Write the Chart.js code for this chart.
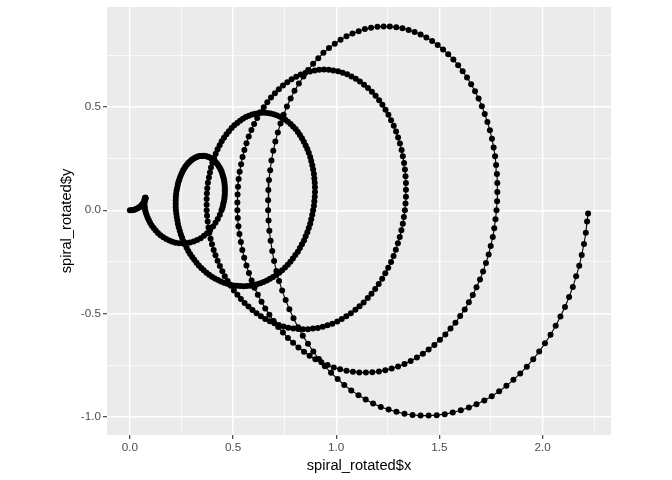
<!DOCTYPE html>
<html>
<head>
<meta charset="utf-8">
<script src="https://cdn.jsdelivr.net/npm/chart.js@4/dist/chart.umd.min.js"></script>
<style>
  html, body { margin: 0; padding: 0; background: #ffffff; }
  #contenedor { width: 672px; height: 480px; }
</style>
</head>
<body>
<div id="contenedor"><canvas id="grafica" width="672" height="480"></canvas></div>
<script>
// puntos de la espiral (una vuelta por bloque)
const spiralX = [
  // vuelta 1
  0, 0.007, 0.015, 0.022, 0.029, 0.035, 0.042, 0.047, 0.053, 0.057,
  0.062, 0.065, 0.068, 0.071, 0.073, 0.074, 0.075, 0.075, 0.075, 0.075,
  0.074, 0.073, 0.073, 0.072, 0.071, 0.070, 0.070, 0.070, 0.071, 0.072,
  0.074, 0.077, 0.081, 0.086, 0.092, 0.098, 0.106, 0.115, 0.125, 0.136,
  0.148, 0.162, 0.176, 0.191, 0.206, 0.222, 0.239, 0.256, 0.274, 0.291,
  0.309, 0.326, 0.343, 0.359, 0.374, 0.389, 0.403, 0.415, 0.426, 0.436,
  // vuelta 2
  0.444, 0.448, 0.451, 0.453, 0.456, 0.458, 0.459, 0.460, 0.460, 0.460,
  0.460, 0.459, 0.458, 0.456, 0.454, 0.451, 0.448, 0.445, 0.441, 0.437,
  0.432, 0.427, 0.422, 0.416, 0.411, 0.405, 0.398, 0.392, 0.385, 0.378,
  0.371, 0.363, 0.356, 0.349, 0.341, 0.334, 0.326, 0.319, 0.311, 0.304,
  0.297, 0.290, 0.283, 0.277, 0.270, 0.264, 0.258, 0.253, 0.248, 0.243,
  0.239, 0.235, 0.232, 0.229, 0.226, 0.224, 0.223, 0.222, 0.222, 0.222,
  0.223, 0.225, 0.227, 0.230, 0.233, 0.237, 0.242, 0.247, 0.253, 0.260,
  0.267, 0.275, 0.283, 0.292, 0.302, 0.312, 0.323, 0.334, 0.346, 0.358,
  0.371, 0.384, 0.398, 0.412, 0.427, 0.441, 0.456, 0.472, 0.487, 0.503,
  0.519, 0.535, 0.551, 0.567, 0.584, 0.600, 0.616, 0.632, 0.648, 0.664,
  0.679, 0.694, 0.709, 0.724, 0.738, 0.752, 0.765, 0.778, 0.790, 0.802,
  0.814, 0.824, 0.834, 0.844, 0.852, 0.860, 0.867, 0.874, 0.879, 0.884,
  // vuelta 3
  0.888, 0.892, 0.894, 0.896, 0.897, 0.897, 0.896, 0.894, 0.892, 0.888,
  0.884, 0.879, 0.874, 0.867, 0.860, 0.852, 0.843, 0.834, 0.824, 0.814,
  0.803, 0.791, 0.779, 0.766, 0.753, 0.739, 0.725, 0.711, 0.697, 0.682,
  0.667, 0.652, 0.637, 0.622, 0.607, 0.592, 0.577, 0.562, 0.548, 0.534,
  0.520, 0.506, 0.493, 0.480, 0.468, 0.456, 0.445, 0.435, 0.425, 0.416,
  0.408, 0.400, 0.393, 0.388, 0.383, 0.378, 0.375, 0.373, 0.372, 0.372,
  0.372, 0.374, 0.377, 0.381, 0.385, 0.391, 0.398, 0.406, 0.415, 0.425,
  0.436, 0.448, 0.460, 0.474, 0.489, 0.504, 0.521, 0.538, 0.556, 0.575,
  0.594, 0.614, 0.635, 0.656, 0.678, 0.700, 0.722, 0.745, 0.768, 0.792,
  0.816, 0.839, 0.863, 0.887, 0.911, 0.935, 0.958, 0.981, 1.005, 1.027,
  1.049, 1.071, 1.093, 1.113, 1.133, 1.153, 1.171, 1.189, 1.206, 1.223,
  1.238, 1.252, 1.266, 1.278, 1.289, 1.299, 1.308, 1.316, 1.323, 1.328,
  // vuelta 4
  1.333, 1.336, 1.338, 1.338, 1.338, 1.336, 1.333, 1.329, 1.323, 1.317,
  1.309, 1.300, 1.290, 1.279, 1.266, 1.253, 1.239, 1.224, 1.208, 1.191,
  1.173, 1.154, 1.135, 1.115, 1.095, 1.074, 1.053, 1.031, 1.009, 0.986,
  0.964, 0.941, 0.918, 0.896, 0.873, 0.850, 0.828, 0.806, 0.784, 0.763,
  0.742, 0.722, 0.703, 0.684, 0.666, 0.649, 0.632, 0.617, 0.602, 0.589,
  0.576, 0.565, 0.555, 0.546, 0.539, 0.532, 0.527, 0.524, 0.522, 0.521,
  0.521, 0.523, 0.526, 0.531, 0.538, 0.545, 0.554, 0.565, 0.577, 0.590,
  0.604, 0.620, 0.638, 0.656, 0.676, 0.697, 0.719, 0.742, 0.766, 0.791,
  0.817, 0.844, 0.871, 0.899, 0.928, 0.958, 0.988, 1.019, 1.050, 1.081,
  1.112, 1.144, 1.175, 1.207, 1.238, 1.269, 1.300, 1.331, 1.361, 1.391,
  1.420, 1.448, 1.476, 1.503, 1.529, 1.554, 1.578, 1.601, 1.623, 1.643,
  1.662, 1.680, 1.697, 1.712, 1.726, 1.739, 1.749, 1.759, 1.766, 1.772,
  // vuelta 5
  1.777, 1.780, 1.781, 1.781, 1.779, 1.775, 1.770, 1.763, 1.755, 1.745,
  1.733, 1.720, 1.706, 1.690, 1.673, 1.654, 1.634, 1.613, 1.591, 1.568,
  1.543, 1.518, 1.492, 1.465, 1.437, 1.409, 1.380, 1.351, 1.321, 1.291,
  1.260, 1.230, 1.200, 1.169, 1.139, 1.109, 1.079, 1.050, 1.021, 0.993,
  0.965, 0.938, 0.913, 0.888, 0.864, 0.841, 0.819, 0.798, 0.779, 0.761,
  0.745, 0.730, 0.717, 0.705, 0.695, 0.686, 0.680, 0.674, 0.671, 0.670,
  0.670, 0.672, 0.676, 0.682, 0.690, 0.699, 0.710, 0.723, 0.738, 0.755,
  0.773, 0.793, 0.815, 0.838, 0.863, 0.889, 0.916, 0.945, 0.975, 1.007,
  1.039, 1.073, 1.108, 1.143, 1.179, 1.216, 1.254, 1.292, 1.331, 1.370,
  1.409, 1.448, 1.487, 1.526, 1.565, 1.604, 1.643, 1.680, 1.718, 1.754,
  1.790, 1.825, 1.859, 1.892, 1.924, 1.955, 1.984, 2.012, 2.039, 2.064,
  2.087, 2.109, 2.129, 2.147, 2.163, 2.178, 2.190, 2.201, 2.210, 2.216,
  2.221
];

const spiralY = [
  // vuelta 1
  0, 0.000, 0.001, 0.003, 0.006, 0.009, 0.012, 0.016, 0.021, 0.025,
  0.030, 0.035, 0.040, 0.044, 0.049, 0.052, 0.055, 0.058, 0.060, 0.061,
  0.060, 0.059, 0.057, 0.054, 0.049, 0.044, 0.037, 0.029, 0.020, 0.011,
  0, -0.011, -0.023, -0.036, -0.048, -0.061, -0.074, -0.086, -0.098, -0.110,
  -0.121, -0.131, -0.139, -0.147, -0.153, -0.157, -0.160, -0.160, -0.159, -0.156,
  -0.151, -0.144, -0.135, -0.124, -0.111, -0.096, -0.079, -0.061, -0.042, -0.022,
  // vuelta 2
  0, 0.011, 0.022, 0.034, 0.045, 0.056, 0.068, 0.079, 0.091, 0.102,
  0.113, 0.124, 0.135, 0.146, 0.156, 0.166, 0.176, 0.186, 0.195, 0.203,
  0.211, 0.219, 0.226, 0.233, 0.239, 0.244, 0.249, 0.253, 0.257, 0.259,
  0.262, 0.263, 0.264, 0.263, 0.263, 0.261, 0.259, 0.256, 0.252, 0.247,
  0.242, 0.235, 0.229, 0.221, 0.213, 0.203, 0.194, 0.183, 0.172, 0.160,
  0.148, 0.135, 0.122, 0.108, 0.094, 0.079, 0.064, 0.048, 0.032, 0.016,
  0, -0.017, -0.033, -0.050, -0.067, -0.083, -0.100, -0.117, -0.133, -0.150,
  -0.166, -0.181, -0.197, -0.212, -0.226, -0.240, -0.254, -0.267, -0.279, -0.291,
  -0.302, -0.312, -0.322, -0.330, -0.338, -0.345, -0.351, -0.356, -0.361, -0.364,
  -0.366, -0.367, -0.368, -0.367, -0.365, -0.362, -0.358, -0.353, -0.347, -0.340,
  -0.332, -0.323, -0.313, -0.302, -0.290, -0.277, -0.264, -0.249, -0.234, -0.217,
  -0.201, -0.183, -0.165, -0.146, -0.126, -0.106, -0.086, -0.065, -0.043, -0.022,
  // vuelta 3
  0, 0.022, 0.044, 0.066, 0.088, 0.111, 0.133, 0.154, 0.176, 0.197,
  0.218, 0.238, 0.258, 0.278, 0.296, 0.314, 0.332, 0.348, 0.364, 0.379,
  0.393, 0.405, 0.417, 0.428, 0.438, 0.446, 0.454, 0.460, 0.465, 0.468,
  0.471, 0.472, 0.472, 0.470, 0.467, 0.463, 0.458, 0.451, 0.443, 0.433,
  0.423, 0.411, 0.398, 0.383, 0.368, 0.351, 0.334, 0.315, 0.295, 0.274,
  0.253, 0.230, 0.207, 0.183, 0.158, 0.133, 0.107, 0.081, 0.054, 0.027,
  0, -0.027, -0.055, -0.083, -0.110, -0.138, -0.165, -0.192, -0.218, -0.245,
  -0.270, -0.295, -0.320, -0.343, -0.366, -0.388, -0.409, -0.430, -0.449, -0.466,
  -0.483, -0.499, -0.513, -0.526, -0.537, -0.547, -0.556, -0.563, -0.569, -0.573,
  -0.575, -0.576, -0.576, -0.573, -0.570, -0.564, -0.557, -0.549, -0.538, -0.527,
  -0.513, -0.499, -0.482, -0.465, -0.446, -0.425, -0.404, -0.381, -0.357, -0.331,
  -0.305, -0.278, -0.250, -0.221, -0.191, -0.160, -0.129, -0.097, -0.065, -0.033,
  // vuelta 4
  0, 0.033, 0.066, 0.099, 0.132, 0.165, 0.197, 0.229, 0.261, 0.292,
  0.323, 0.352, 0.381, 0.409, 0.436, 0.462, 0.487, 0.511, 0.533, 0.554,
  0.574, 0.592, 0.608, 0.623, 0.637, 0.648, 0.658, 0.666, 0.673, 0.677,
  0.680, 0.681, 0.680, 0.677, 0.672, 0.665, 0.657, 0.646, 0.634, 0.620,
  0.604, 0.586, 0.567, 0.546, 0.523, 0.499, 0.474, 0.447, 0.418, 0.388,
  0.357, 0.325, 0.292, 0.258, 0.223, 0.187, 0.151, 0.114, 0.076, 0.038,
  0, -0.038, -0.077, -0.115, -0.154, -0.192, -0.230, -0.267, -0.304, -0.340,
  -0.375, -0.409, -0.443, -0.475, -0.506, -0.536, -0.565, -0.592, -0.618, -0.642,
  -0.664, -0.685, -0.704, -0.721, -0.736, -0.749, -0.761, -0.770, -0.777, -0.782,
  -0.785, -0.785, -0.784, -0.780, -0.774, -0.766, -0.756, -0.744, -0.730, -0.713,
  -0.695, -0.674, -0.652, -0.627, -0.601, -0.573, -0.544, -0.512, -0.480, -0.445,
  -0.410, -0.373, -0.335, -0.296, -0.255, -0.214, -0.173, -0.130, -0.087, -0.044,
  // vuelta 5
  0, 0.044, 0.088, 0.132, 0.175, 0.219, 0.262, 0.304, 0.346, 0.387,
  0.427, 0.466, 0.504, 0.541, 0.576, 0.610, 0.643, 0.673, 0.702, 0.730,
  0.755, 0.778, 0.800, 0.819, 0.836, 0.851, 0.863, 0.873, 0.881, 0.886,
  0.889, 0.890, 0.888, 0.883, 0.877, 0.867, 0.856, 0.842, 0.825, 0.806,
  0.785, 0.762, 0.736, 0.709, 0.679, 0.647, 0.614, 0.578, 0.541, 0.502,
  0.462, 0.420, 0.377, 0.333, 0.288, 0.241, 0.194, 0.146, 0.098, 0.049,
  0, -0.049, -0.099, -0.148, -0.197, -0.246, -0.294, -0.342, -0.389, -0.435,
  -0.479, -0.523, -0.566, -0.607, -0.646, -0.684, -0.720, -0.755, -0.787, -0.817,
  -0.846, -0.872, -0.895, -0.916, -0.935, -0.952, -0.965, -0.976, -0.985, -0.991,
  -0.994, -0.994, -0.992, -0.987, -0.979, -0.968, -0.955, -0.939, -0.921, -0.900,
  -0.876, -0.850, -0.821, -0.790, -0.757, -0.721, -0.684, -0.644, -0.603, -0.559,
  -0.514, -0.468, -0.420, -0.371, -0.320, -0.269, -0.216, -0.163, -0.109, -0.055,
  -0.016
];

const xTicks = [0, 0.25, 0.5, 0.75, 1, 1.25, 1.5, 1.75, 2, 2.25];
const yTicks = [-1, -0.75, -0.5, -0.25, 0, 0.25, 0.5, 0.75];
const xLimites = [-0.111, 2.332];
const yLimites = [-1.088, 0.984];

const puntos = spiralX.map((x, i) => ({ x: x, y: spiralY[i] }));

function esMayor(v) {
  return Math.abs(v * 2 - Math.round(v * 2)) < 1e-6;
}

const fuenteTicks = { family: 'Liberation Sans, Arial, sans-serif', size: 11.7 };
const fuenteTitulo = { family: 'Liberation Sans, Arial, sans-serif', size: 14.7 };

function opcionesEje(ticks, limites, titulo, tituloPadding, ajustar) {
  return {
    type: 'linear',
    min: limites[0],
    max: limites[1],
    afterBuildTicks: (eje) => {
      eje.ticks = ticks.map(v => ({ value: v }));
    },
    afterFit: (eje) => {
      ajustar(eje);
      // sin margenes extra por las etiquetas de los extremos
      eje.paddingTop = 0;
      eje.paddingBottom = 0;
      eje.paddingLeft = 0;
      eje.paddingRight = 0;
    },
    border: { display: false },
    grid: {
      color: '#FFFFFF',
      lineWidth: ctx => (ctx.tick && esMayor(ctx.tick.value)) ? 1.4 : 0.7,
      drawTicks: true,
      tickLength: 4,
      tickWidth: 1.1,
      tickColor: ctx => (ctx.tick && esMayor(ctx.tick.value)) ? '#333333' : 'rgba(0,0,0,0)'
    },
    ticks: {
      autoSkip: false,
      maxRotation: 0,
      padding: 2,
      color: '#4D4D4D',
      font: fuenteTicks,
      callback: (v) => esMayor(v) ? v.toFixed(1) : ''
    },
    title: {
      display: true,
      text: titulo,
      color: '#000000',
      font: fuenteTitulo,
      padding: tituloPadding
    }
  };
}

const fondoPanel = {
  id: 'fondoPanel',
  beforeDraw(chart) {
    const { ctx, chartArea } = chart;
    ctx.save();
    ctx.fillStyle = '#EBEBEB';
    ctx.fillRect(chartArea.left, chartArea.top, chartArea.right - chartArea.left, chartArea.bottom - chartArea.top);
    ctx.restore();
  }
};

const ctx = document.getElementById('grafica').getContext('2d');
window.myChart = new Chart(ctx, {
  type: 'scatter',
  data: {
    datasets: [{
      data: puntos,
      showLine: true,
      borderColor: '#000000',
      borderWidth: 1.1,
      pointRadius: 3,
      pointHoverRadius: 3,
      pointBackgroundColor: '#000000',
      pointBorderWidth: 0,
      tension: 0
    }]
  },
  options: {
    responsive: false,
    animation: false,
    devicePixelRatio: 1,
    layout: { padding: { left: 0, right: 61, top: 7, bottom: 0 } },
    plugins: {
      legend: { display: false },
      tooltip: { enabled: false }
    },
    scales: {
      x: opcionesEje(xTicks, xLimites, 'spiral_rotated$x', { top: 0, bottom: 5 }, (eje) => { eje.height = 45; }),
      y: opcionesEje(yTicks, yLimites, 'spiral_rotated$y', { top: 58, bottom: 0 }, (eje) => { eje.width = 107; })
    }
  },
  plugins: [fondoPanel]
});
</script>
</body>
</html>
